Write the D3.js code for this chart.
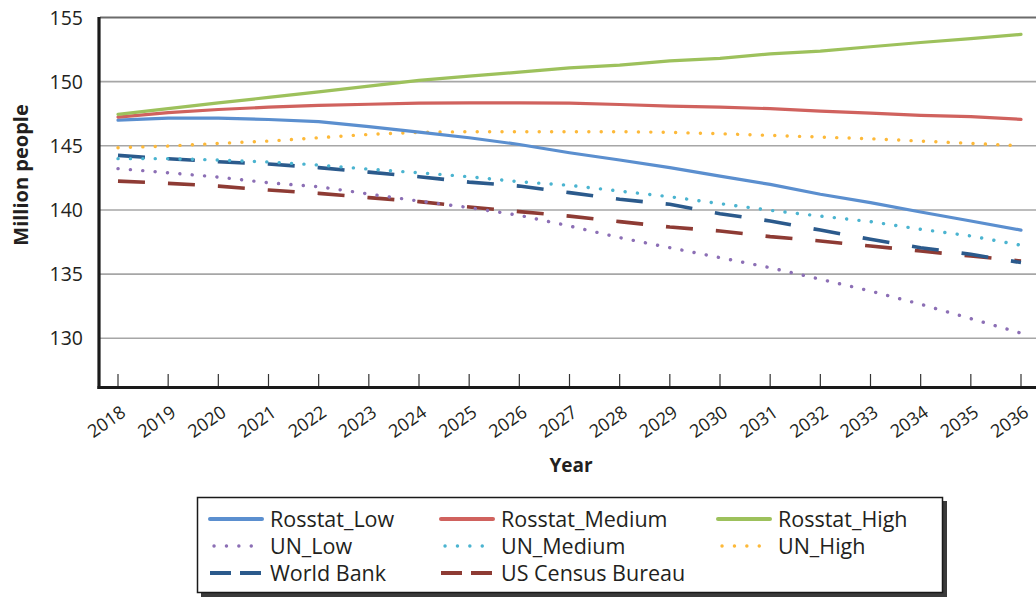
<!DOCTYPE html>
<html>
<head>
<meta charset="utf-8">
<script src="https://cdn.jsdelivr.net/npm/d3@7"></script>
<style>
  html, body { margin: 0; padding: 0; background: #fff; }
  svg { display: block; font-family: "Open Sans", "Noto Sans", sans-serif; }
</style>
</head>
<body>
<svg id="chart" width="1036" height="598"></svg>
<script>
const years = [2018,2019,2020,2021,2022,2023,2024,2025,2026,2027,2028,2029,2030,2031,2032,2033,2034,2035,2036];
const yTicks = [130,135,140,145,150,155];

const rosstatLow    = [147.0,147.15,147.15,147.05,146.88,146.5,146.07,145.63,145.1,144.46,143.89,143.3,142.64,141.99,141.22,140.57,139.84,139.14,138.43];
const rosstatMedium = [147.24,147.58,147.83,148.01,148.15,148.24,148.33,148.35,148.35,148.33,148.22,148.1,148.02,147.89,147.7,147.55,147.37,147.27,147.06];
const rosstatHigh   = [147.45,147.9,148.35,148.77,149.2,149.65,150.1,150.43,150.74,151.08,151.29,151.62,151.82,152.17,152.38,152.72,153.05,153.36,153.68];
const unLow         = [143.22,142.9,142.56,142.12,141.81,141.24,140.69,140.18,139.58,138.75,137.84,137.06,136.28,135.5,134.6,133.68,132.65,131.53,130.4];
const unMedium      = [144.0,144.0,143.89,143.74,143.5,143.18,142.9,142.59,142.2,141.92,141.47,141.03,140.49,139.97,139.52,139.09,138.49,137.97,137.25];
const unHigh        = [144.85,144.98,145.19,145.37,145.63,145.89,146.05,146.1,146.1,146.1,146.1,146.05,145.94,145.81,145.68,145.55,145.37,145.19,145.0];
const worldBank     = [144.25,143.99,143.76,143.58,143.3,142.95,142.59,142.17,141.86,141.35,140.83,140.44,139.71,139.14,138.43,137.71,137.06,136.54,135.9];
const usCensus      = [142.25,142.07,141.86,141.55,141.29,140.96,140.65,140.23,139.87,139.52,139.09,138.67,138.36,137.92,137.58,137.19,136.8,136.41,136.02];

const seriesNames = ["Rosstat_Low","Rosstat_Medium","Rosstat_High","UN_Low","UN_Medium","UN_High","World Bank","US Census Bureau"];
const seriesValues = [rosstatLow, rosstatMedium, rosstatHigh, unLow, unMedium, unHigh, worldBank, usCensus];
const seriesColors = ["#5b8fcf","#d0625e","#9dc15c","#8c6fb5","#4bb4d0","#fdb939","#2b5a8c","#8e3b34"];
const seriesStyles = ["solid","solid","solid","dot","dot","dot","dash","dash"];

const svg = d3.select("#chart");
const textColor = "#231f20";

const x = d3.scaleLinear().domain([2018, 2036]).range([118, 1021]);
const y = d3.scaleLinear().domain([126.2, 155]).range([387, 17.5]);

// gridlines
svg.append("g").selectAll("line").data(yTicks).join("line")
  .attr("x1", 100).attr("x2", 1036)
  .attr("y1", d => y(d)).attr("y2", d => y(d))
  .attr("stroke", d => d === 155 ? "#6b6b6b" : "#a6a6a6")
  .attr("stroke-width", d => d === 155 ? 2.2 : 1.6);

// y tick labels
svg.append("g").selectAll("text").data(yTicks).join("text")
  .attr("x", 83).attr("y", d => y(d)).attr("dy", "0.36em")
  .attr("text-anchor", "end").attr("font-size", 19.5).attr("fill", textColor)
  .text(d => d);

// x ticks (inside)
svg.append("g").selectAll("line").data(years).join("line")
  .attr("x1", d => x(d)).attr("x2", d => x(d))
  .attr("y1", 374).attr("y2", 387)
  .attr("stroke", "#333").attr("stroke-width", 1.2);

// x tick labels
svg.append("g").selectAll("text").data(years).join("text")
  .attr("transform", d => `translate(${x(d) + 9},${415}) rotate(-35)`)
  .attr("text-anchor", "end")
  .attr("font-size", 18).attr("fill", textColor)
  .text(d => d);

// axes lines
svg.append("line").attr("x1", 99).attr("x2", 99).attr("y1", 17).attr("y2", 389)
  .attr("stroke", "#1a1a1a").attr("stroke-width", 3.2);
svg.append("line").attr("x1", 97.5).attr("x2", 1036).attr("y1", 387.5).attr("y2", 387.5)
  .attr("stroke", "#1a1a1a").attr("stroke-width", 3.2);

// axis titles
svg.append("text").attr("transform", "translate(28,175) rotate(-90)")
  .attr("text-anchor", "middle").attr("font-size", 20).attr("font-weight", "bold")
  .attr("fill", textColor).text("Million people");
svg.append("text").attr("x", 571).attr("y", 472)
  .attr("text-anchor", "middle").attr("font-size", 19).attr("font-weight", "bold")
  .attr("fill", textColor).text("Year");

function styleLine(sel, style, color, legend) {
  sel.attr("fill", "none").attr("stroke", color);
  if (style === "solid") {
    sel.attr("stroke-width", legend ? 4 : 3.2).attr("stroke-linecap", "round").attr("stroke-linejoin", "round");
  } else if (style === "dot") {
    sel.attr("stroke-width", 3.4).attr("stroke-linecap", "round").attr("stroke-dasharray", "0.1,12.3");
  } else {
    sel.attr("stroke-width", legend ? 4 : 3.6).attr("stroke-linecap", "butt")
      .attr("stroke-dasharray", legend ? "21,9" : "27,23");
  }
  return sel;
}

const line = d3.line().x((d, i) => x(years[i])).y(d => y(d));

const order = [7, 6, 3, 4, 5, 0, 1, 2];
const plot = svg.append("g");
order.forEach(i => {
  styleLine(plot.append("path").attr("d", line(seriesValues[i])), seriesStyles[i], seriesColors[i], false);
});

// legend
const lg = svg.append("g");
lg.append("rect").attr("x", 201).attr("y", 501).attr("width", 746).attr("height", 96).attr("fill", "#3a3a3a");
lg.append("rect").attr("x", 197.5).attr("y", 497.5).attr("width", 745).attr("height", 95)
  .attr("fill", "#fff").attr("stroke", "#1a1a1a").attr("stroke-width", 1.5);

const colX = [210, 441, 718];
const rowY = [519, 546, 573];
seriesNames.forEach((name, i) => {
  const cx = colX[i % 3], cy = rowY[Math.floor(i / 3)];
  const dotted = seriesStyles[i] === "dot";
  const start = dotted ? cx + 4 : cx;
  styleLine(lg.append("path").attr("d", d3.line()([[start, cy], [cx + 52, cy]])), seriesStyles[i], seriesColors[i], true);
  lg.append("text").attr("x", cx + 60).attr("y", cy).attr("dy", "0.36em")
    .attr("font-size", 21.5).attr("fill", textColor).text(name);
});
</script>
</body>
</html>
